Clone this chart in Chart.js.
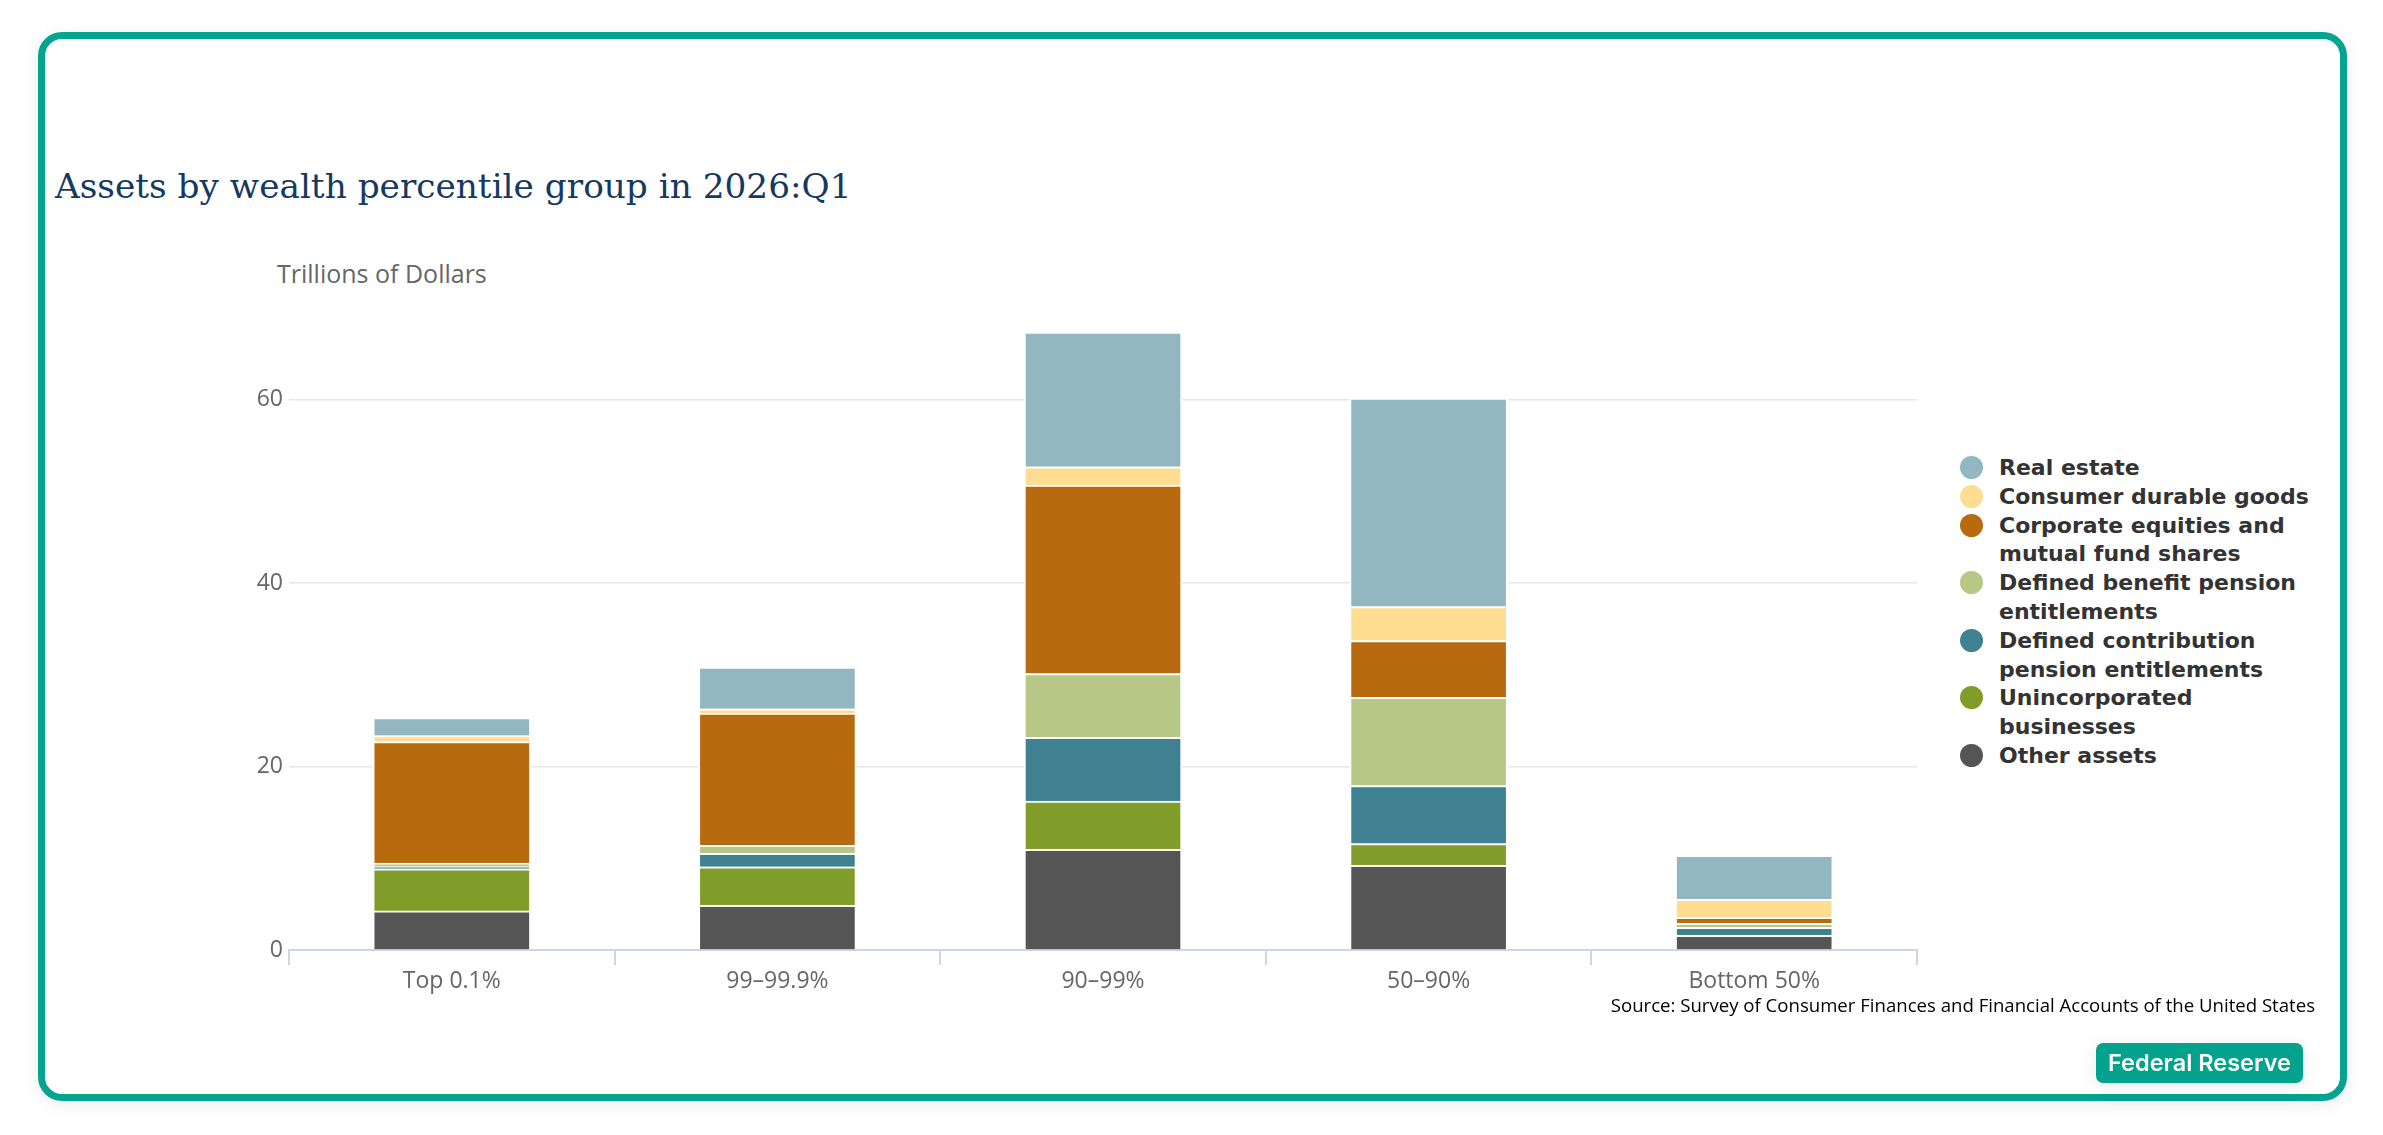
<!DOCTYPE html>
<html>
<head>
<meta charset="utf-8">
<script src="https://cdn.jsdelivr.net/npm/chart.js@4"></script>
<style>
  html, body { margin: 0; padding: 0; background: #fff; }
  body { width: 2383px; height: 1135px; position: relative; overflow: hidden; font-family: "Open Sans", sans-serif; }
  .frame {
    position: absolute; left: 38px; top: 32px; width: 2309px; height: 1069px;
    box-sizing: border-box; border: 7px solid #05a48e; border-radius: 24px;
    box-shadow: 0 3px 18px rgba(0,0,0,0.08);
  }
  .title {
    position: absolute; left: 55px; top: 165px; line-height: 42px;
    font-family: "DejaVu Serif", serif; font-size: 34.3px; color: #163a5f;
  }
  .unit {
    position: absolute; left: 277px; top: 258px; line-height: 30px;
    font-size: 25px; color: #666;
  }
  #wrap { position: absolute; left: 200px; top: 280px; width: 1740px; height: 760px; }
  #legend {
    position: absolute; left: 1960px; top: 454px; width: 360px;
    font-family: "DejaVu Sans", sans-serif; font-weight: bold; font-size: 22px;
    line-height: 28.8px; color: #333;
  }
  #legend .item { position: relative; padding-left: 39px; width: 325px; }
  #legend .dot {
    position: absolute; left: 0; top: 2px; width: 23px; height: 23px; border-radius: 50%;
  }
  .source {
    position: absolute; right: 68px; top: 993px; line-height: 24px;
    font-size: 18.6px; color: #000;
  }
  .badge {
    position: absolute; left: 2096px; top: 1043px; width: 207px; height: 40px;
    background: #02a28c; border-radius: 7px; color: #fff;
    font-family: Inter, sans-serif; font-weight: 600; font-size: 23.5px;
    line-height: 40px; text-align: center;
    box-shadow: 0 4px 22px rgba(0,0,0,0.08);
  }
</style>
</head>
<body>
<div class="frame"></div>
<div class="title">Assets by wealth percentile group in 2026:Q1</div>
<div class="unit">Trillions of Dollars</div>
<div id="wrap"><canvas id="chart"></canvas></div>
<div id="legend"></div>
<div class="source">Source: Survey of Consumer Finances and Financial Accounts of the United States</div>
<div class="badge">Federal Reserve</div>

<script>
// Grupos de percentil de riqueza (eje x)
const categories = ["Top 0.1%", "99–99.9%", "90–99%", "50–90%", "Bottom 50%"];

// Billones de dólares (de abajo hacia arriba en la pila)
const otherAssets    = [4.26, 4.87, 10.98, 9.23, 1.60];
const unincorporated = [4.59, 4.21, 5.25, 2.37, 0];
const definedContrib = [0.24, 1.47, 6.96, 6.34, 0.87];
const definedBenefit = [0.38, 0.85, 6.96, 9.61, 0.44];
const corpEquities   = [13.25, 14.43, 20.54, 6.20, 0.65];
const durableGoods   = [0.65, 0.47, 1.99, 3.69, 1.96];
const realEstate     = [1.96, 4.54, 14.69, 22.74, 4.80];

const yTicks = [0, 20, 40, 60];

// Orden de apilado: el primero queda abajo
const series = [
  { label: "Other assets", data: otherAssets, color: "#555555" },
  { label: "Unincorporated businesses", data: unincorporated, color: "#809d2a" },
  { label: "Defined contribution pension entitlements", data: definedContrib, color: "#3f8191" },
  { label: "Defined benefit pension entitlements", data: definedBenefit, color: "#b7c786" },
  { label: "Corporate equities and mutual fund shares", data: corpEquities, color: "#b76a0e" },
  { label: "Consumer durable goods", data: durableGoods, color: "#fedc91" },
  { label: "Real estate", data: realEstate, color: "#93b7c0" },
];

const TICK_FONT = { family: "'Open Sans', sans-serif", size: 23 };

const chart = new Chart(document.getElementById("chart"), {
  type: "bar",
  data: {
    labels: categories,
    datasets: series.map(s => ({
      label: s.label,
      data: s.data,
      backgroundColor: s.color,
      borderColor: "#ffffff",
      borderWidth: { top: 2, left: 2, right: 2, bottom: 0 },
      barThickness: 158,
    })),
  },
  options: {
    responsive: true,
    maintainAspectRatio: false,
    animation: false,
    layout: { padding: { top: 28, right: 23, left: 0, bottom: 0 } },
    plugins: { legend: { display: false }, tooltip: { enabled: false } },
    scales: {
      x: {
        stacked: true,
        afterFit: s => { s.height = 90; },
        grid: {
          offset: true, drawOnChartArea: false, drawTicks: true,
          tickLength: 15, color: "#ccd6eb", lineWidth: 2,
        },
        border: { color: "#ccd6eb", width: 2 },
        ticks: { color: "#666", font: TICK_FONT, padding: 3, maxRotation: 0 },
      },
      y: {
        stacked: true,
        min: 0, max: 70,
        afterFit: s => { s.width = 89; },
        afterBuildTicks: s => { s.ticks = yTicks.map(v => ({ value: v })); },
        grid: { color: "#e6e6e6", lineWidth: 1.5, drawTicks: false },
        border: { display: false },
        ticks: { color: "#666", font: TICK_FONT, padding: 6 },
      },
    },
  },
});

// Leyenda en HTML para poder partir las etiquetas largas en varias líneas
document.getElementById("legend").innerHTML = chart.data.datasets.slice().reverse().map(ds => `
  <div class="item"><span class="dot" style="background:${ds.backgroundColor}"></span>${ds.label}</div>`).join("");
</script>
</body>
</html>
